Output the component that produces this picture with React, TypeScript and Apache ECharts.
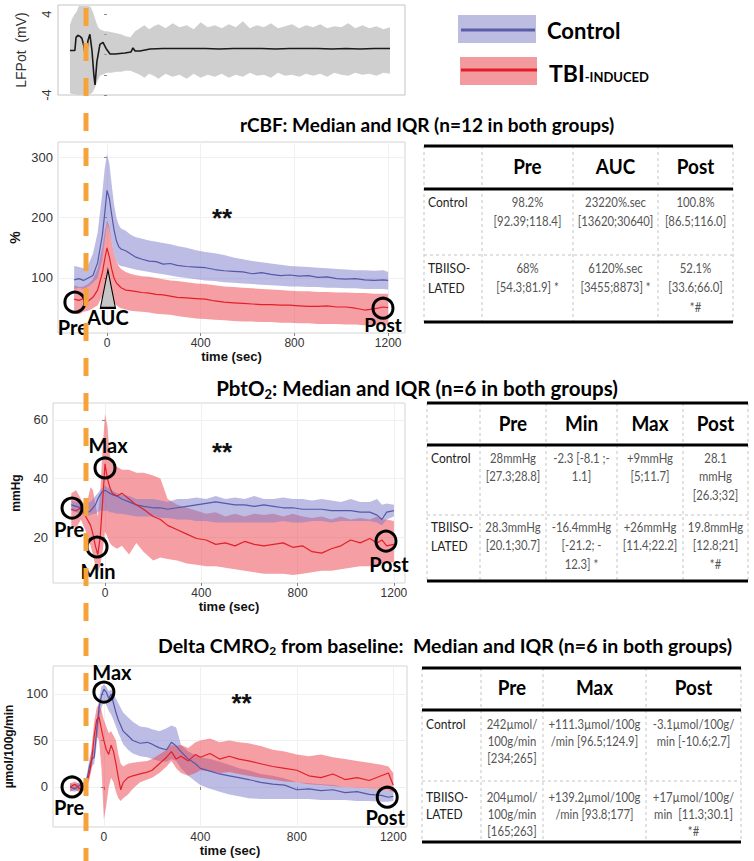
import React, { useEffect, useRef } from 'react';
import * as echarts from 'echarts';

// ---------- shared ----------
const TIME_TICKS = [0, 400, 800, 1200];

// ---------- LFPot ----------
const lfpLineT = [-158, -137, -132, -124, -115, -107, -98, -90, -81, -73, -64, -56, -51, -43, -30, -17, -4, 13, 34, 77, 102, 111, 120, 141, 184, 240, 300, 360, 420, 480, 540, 600, 660, 720, 780, 840, 900, 960, 1020, 1080, 1140, 1208];
const lfpLineV = [0.4, 0.4, 1.7, 1.9, 1.8, 1.6, 0.8, -0.6, 1.4, 2.0, 0.4, -2.0, -3.0, -0.7, 1.0, 1.2, 0.6, 0.05, 0.05, 0.15, 0.25, 0.65, 0.35, 0.35, 0.55, 0.6, 0.6, 0.6, 0.6, 0.55, 0.6, 0.6, 0.6, 0.55, 0.6, 0.6, 0.6, 0.55, 0.6, 0.55, 0.6, 0.6];
const lfpBandT = [-158, -150, -140, -130, -120, -110, -100, -90, -80, -70, -60, -50, -40, -30, -20, -10, 0, 20, 40, 60, 80, 100, 120, 140, 160, 180, 200, 220, 250, 280, 310, 340, 370, 400, 430, 460, 490, 520, 550, 580, 610, 640, 670, 700, 730, 760, 790, 820, 850, 880, 910, 940, 970, 1000, 1030, 1060, 1090, 1120, 1150, 1180, 1208];
const lfpBandHi = [2.9, 3.5, 3.9, 4.2, 4.8, 4.8, 4.8, 4.8, 4.8, 4.7, 4.2, 3.5, 2.8, 2.5, 2.4, 2.3, 2.3, 2.2, 2.1, 2.0, 1.8, 1.7, 2.3, 2.6, 2.9, 2.5, 2.8, 3.0, 2.6, 3.1, 2.7, 2.9, 2.5, 3.2, 2.7, 2.9, 2.6, 3.0, 2.7, 3.3, 2.6, 2.9, 2.7, 3.1, 2.6, 2.8, 3.0, 2.6, 2.9, 2.7, 3.0, 2.6, 2.8, 2.7, 3.1, 2.6, 2.9, 2.6, 2.8, 2.5, 2.7];
const lfpBandLo = [-3.8, -3.9, -3.9, -3.95, -3.95, -3.95, -3.95, -3.95, -3.95, -3.9, -3.7, -3.2, -2.6, -2.1, -2.0, -1.9, -1.8, -1.8, -1.7, -1.7, -1.6, -1.6, -1.8, -2.0, -2.3, -1.9, -2.1, -2.4, -1.9, -2.2, -2.0, -2.4, -1.9, -2.3, -2.0, -2.2, -1.9, -2.3, -2.0, -2.2, -1.8, -2.1, -2.0, -2.3, -1.8, -2.1, -2.0, -2.2, -1.9, -2.1, -1.9, -2.2, -1.8, -2.0, -2.1, -1.8, -2.0, -1.9, -2.1, -1.8, -1.9];

// ---------- rCBF (%) ----------
const rcbfT = [-140, -120, -100, -80, -60, -40, -20, -10, 0, 10, 20, 30, 40, 50, 60, 80, 100, 120, 150, 180, 210, 240, 270, 300, 340, 380, 420, 460, 500, 540, 580, 620, 660, 700, 740, 780, 820, 860, 900, 940, 980, 1020, 1060, 1100, 1140, 1180, 1200];
const rcbfCtrlMed = [97, 99, 96, 100, 104, 125, 170, 205, 245, 232, 205, 180, 162, 152, 148, 145, 140, 135, 131, 128, 127, 123, 124, 121, 119, 118, 117, 114, 112, 111, 110, 107, 109, 106, 104, 105, 103, 104, 101, 102, 99, 98, 99, 97, 96, 97, 96];
const rcbfCtrlQ3 = [120, 118, 116, 122, 140, 175, 240, 280, 305, 290, 255, 222, 200, 188, 182, 178, 172, 168, 165, 162, 160, 158, 156, 153, 150, 146, 143, 141, 138, 134, 131, 128, 126, 124, 122, 120, 119, 118, 117, 116, 115, 114, 113, 113, 112, 113, 110];
const rcbfCtrlQ1 = [82, 84, 82, 86, 92, 100, 130, 160, 190, 180, 160, 140, 128, 122, 120, 118, 116, 114, 112, 110, 108, 106, 104, 102, 100, 98, 96, 95, 93, 92, 91, 90, 89, 88, 87, 86, 86, 85, 85, 84, 84, 83, 83, 82, 82, 82, 81];
const rcbfTbiMed = [65, 63, 66, 62, 68, 80, 108, 130, 150, 135, 115, 100, 92, 88, 84, 80, 79, 78, 76, 75, 73, 72, 70, 68, 67, 66, 65, 62, 60, 59, 58, 57, 56, 56, 55, 55, 54, 53, 53, 54, 52, 52, 50, 47, 49, 52, 51];
const rcbfTbiQ3 = [88, 85, 86, 90, 98, 115, 150, 175, 195, 185, 160, 140, 128, 120, 115, 110, 107, 105, 103, 102, 100, 98, 96, 95, 93, 91, 90, 88, 86, 85, 84, 83, 82, 81, 80, 79, 78, 78, 77, 77, 76, 76, 75, 75, 74, 74, 74];
const rcbfTbiQ1 = [42, 40, 44, 46, 50, 55, 70, 80, 90, 80, 68, 60, 55, 52, 50, 48, 46, 45, 44, 43, 41, 40, 39, 37, 35, 33, 32, 31, 30, 29, 28, 28, 27, 27, 26, 26, 25, 25, 24, 24, 24, 23, 23, 22, 22, 22, 22];

// ---------- PbtO2 (mmHg) ----------
const pbtT = [-140, -120, -100, -80, -60, -50, -40, -30, -20, -10, 0, 10, 20, 30, 50, 70, 100, 130, 160, 200, 230, 260, 300, 340, 380, 420, 460, 500, 540, 580, 620, 660, 700, 740, 780, 820, 860, 900, 940, 980, 1020, 1060, 1100, 1130, 1150, 1170, 1200];
const pbtTbiMed = [29.5, 29, 30, 27, 24, 21, 17, 14, 20, 32, 45, 40, 37, 35, 34, 35, 33, 31, 29.5, 27, 26, 24, 22.5, 21, 19.5, 19, 17.5, 18, 17, 18.5, 17.5, 17, 17.5, 18, 16.5, 17, 15, 14.5, 16, 17, 19, 18, 19.5, 18, 19, 17, 17.5];
const pbtTbiQ3 = [35, 36, 33, 30, 37, 36, 31, 27, 35, 50, 62, 58, 48, 45, 44, 43, 43, 42, 42, 41, 40, 33, 31, 30, 29, 28, 28.5, 27, 28, 27, 28, 27.5, 28, 27, 28, 27, 26.5, 27, 26, 27, 26, 26.5, 26, 27, 26, 26, 25.5];
const pbtTbiQ1 = [24, 23, 26, 22, 17, 14, 10, 8, 10, 15, 22, 20, 18, 17, 16, 17, 14, 18, 15, 12, 13, 12.5, 12, 11, 10.5, 10, 10, 9.5, 9, 8.5, 8, 7.5, 7.5, 7.5, 7, 7.5, 8, 8.5, 8.5, 9, 9.5, 10, 10, 10.5, 11, 11, 11.5];
const pbtCtrlMed = [31, 30.5, 30, 28, 29, 30, 31, 33, 34.5, 35.5, 36, 35.5, 35, 34.5, 34, 33, 32, 31, 30.5, 30, 30, 29.5, 30, 30.5, 31, 31.5, 32, 31.5, 31, 31, 30.5, 31, 30.5, 30, 30, 29.5, 29.5, 29.5, 29, 29, 29, 28.5, 28.5, 27.5, 26, 28.5, 29];
const pbtCtrlQ3 = [32.5, 32, 32, 31.5, 32, 33, 34, 35, 36, 37, 37.5, 37, 36.5, 36, 35, 34.5, 34, 33, 33, 33, 32.5, 32, 33, 33, 33.5, 33, 34, 33, 33.5, 33, 34, 33, 33, 33.5, 33, 33, 32.5, 33, 32.5, 32, 33, 32, 32, 33, 31, 31.5, 31];
const pbtCtrlQ1 = [29, 28.5, 28, 27, 27.5, 28, 28, 28.5, 29, 29, 29, 29, 28.5, 28.5, 28, 28, 27.5, 27, 27, 27, 26.5, 26.5, 26, 26, 25.5, 25.5, 25, 25, 25, 25, 25, 25, 25, 25.5, 25, 25, 25.5, 25.5, 25, 25.5, 25.5, 25.5, 25.5, 25, 24, 26, 27];

// ---------- Delta CMRO2 (µmol/100g/min) ----------
const cmroT = [-140, -120, -100, -80, -70, -60, -50, -40, -30, -20, -10, 0, 10, 20, 30, 40, 50, 60, 70, 80, 100, 120, 150, 180, 200, 230, 260, 280, 300, 320, 350, 380, 400, 440, 480, 520, 560, 600, 650, 700, 750, 800, 850, 900, 950, 1000, 1050, 1100, 1150, 1180, 1200];
const cmroCtrlMed = [0, -2, 2, 0, 8, 22, 30, 32, 60, 85, 98, 105, 102, 95, 100, 90, 80, 72, 66, 60, 55, 50, 47, 48, 46, 42, 40, 48, 44, 38, 30, 25, 20, 17, 14, 12, 10, 8, 5, 3, 2, -3, -2, -4, -3, -6, -5, -8, -9, -11, -10];
const cmroCtrlQ3 = [4, 3, 5, 5, 14, 30, 38, 42, 70, 95, 108, 110, 108, 103, 105, 100, 95, 90, 85, 80, 75, 70, 65, 64, 62, 60, 63, 66, 64, 45, 38, 34, 32, 30, 27, 24, 20, 18, 14, 12, 9, 5, 4, 3, 2, 0, -1, -2, -3, -4, -3];
const cmroCtrlQ1 = [-4, -5, -3, -4, 2, 15, 22, 25, 45, 70, 85, 92, 88, 82, 78, 72, 65, 58, 52, 46, 40, 36, 33, 32, 30, 28, 27, 30, 28, 20, 12, 6, 2, -2, -5, -8, -10, -12, -13, -13, -13, -13, -13, -14, -14, -14, -15, -15, -16, -16, -15];
const cmroTbiMed = [0, 3, -2, 2, 5, 15, 30, 55, 72, 75, 62, 50, 40, 35, 45, 38, 25, 10, -3, 5, 10, 12, 14, 16, 18, 25, 32, 38, 30, 33, 28, 35, 32, 36, 30, 33, 30, 28, 25, 22, 20, 18, 12, 10, 14, 8, 10, 7, 12, 15, 2];
const cmroTbiQ3 = [4, 6, 3, 5, 10, 22, 45, 70, 85, 90, 82, 72, 65, 58, 60, 55, 50, 35, 25, 22, 25, 26, 27, 28, 30, 35, 40, 45, 44, 45, 42, 48, 50, 52, 48, 50, 48, 47, 44, 40, 38, 35, 33, 35, 32, 30, 28, 26, 24, 22, 15];
const cmroTbiQ1 = [-5, -3, -6, -3, 0, 8, 20, 40, 55, 50, 20, -35, -20, 0, 10, 5, -5, -12, -15, -12, -8, -2, 5, 8, 10, 15, 22, 28, 20, 15, 12, 15, 18, 17, 15, 16, 14, 12, 10, 8, 6, 5, 3, 2, 1, 0, -1, -2, -3, -4, -5];

// ---------- tables ----------
const rcbfHeaders = ['', 'Pre', 'AUC', 'Post'];
const rcbfRowNames = [['Control'], ['TBIISO-', 'LATED']];
const rcbfCells = [
  [['98.2%', '[92.39;118.4]'], ['23220%.sec', '[13620;30640]'], ['100.8%', '[86.5;116.0]']],
  [['68%', '[54.3;81.9] *'], ['6120%.sec', '[3455;8873] *'], ['52.1%', '[33.6;66.0]', '*#']],
];
const pbtHeaders = ['', 'Pre', 'Min', 'Max', 'Post'];
const pbtRowNames = [['Control'], ['TBIISO-', 'LATED']];
const pbtCells = [
  [['28mmHg', '[27.3;28.8]'], ['-2.3 [-8.1 ;-', '1.1]'], ['+9mmHg', '[5;11.7]'], ['28.1', 'mmHg', '[26.3;32]']],
  [['28.3mmHg', '[20.1;30.7]'], ['-16.4mmHg', '[-21.2; -', '12.3] *'], ['+26mmHg', '[11.4;22.2]'], ['19.8mmHg', '[12.8;21]', '*#']],
];
const cmroHeaders = ['', 'Pre', 'Max', 'Post'];
const cmroRowNames = [['Control'], ['TBIISO-', 'LATED']];
const cmroCells = [
  [['242µmol/', '100g/min', '[234;265]'], ['+111.3µmol/100g', '/min [96.5;124.9]'], ['-3.1µmol/100g/', 'min [-10.6;2.7]']],
  [['204µmol/', '100g/min', '[165;263]'], ['+139.2µmol/100g', '/min [93.8;177]'], ['+17µmol/100g/', 'min  [11.3;30.1]', '*#']],
];

// ---------- styles ----------
const FONT_C = 'Lato, "Open Sans", sans-serif';
const FONT_A = '"Liberation Sans", Arial, sans-serif';
const BLUE_LINE = '#5558a8';
const RED_LINE = '#e3202a';
const BLUE_BAND = 'rgba(122,122,204,0.5)';
const RED_BAND = 'rgba(236,62,72,0.5)';
const GREY_BAND = 'rgba(175,175,175,0.6)';
const ORANGE = '#F6A43A';

function zip(t: number[], ...cols: number[][]) {
  const n = Math.min(t.length, ...cols.map((c) => c.length));
  const out: number[][] = [];
  for (let i = 0; i < n; i++) out.push([t[i], ...cols.map((c) => c[i])]);
  return out;
}

function bandSeries(g: number, t: number[], lo: number[], hi: number[], fill: string, z: number) {
  const data = zip(t, lo, hi);
  return {
    type: 'custom',
    xAxisIndex: g,
    yAxisIndex: g,
    data,
    encode: { x: 0, y: [1, 2] },
    silent: true,
    z,
    renderItem: (params: any, api: any) => {
      if (params.dataIndex !== 0) return null;
      const pts: number[][] = [];
      for (let i = 0; i < data.length; i++) pts.push(api.coord([data[i][0], data[i][2]]));
      for (let i = data.length - 1; i >= 0; i--) pts.push(api.coord([data[i][0], data[i][1]]));
      return { type: 'polygon', shape: { points: pts }, style: { fill } };
    },
  };
}

function lineSeries(g: number, t: number[], v: number[], color: string, width: number, z: number, markData?: any[]) {
  const s: any = {
    type: 'line',
    xAxisIndex: g,
    yAxisIndex: g,
    data: zip(t, v),
    showSymbol: false,
    symbol: 'none',
    lineStyle: { color, width },
    itemStyle: { color },
    silent: true,
    z,
  };
  if (markData) s.markPoint = { silent: true, data: markData, z: 20 };
  return s;
}

const circleMP = (coord: number[]) => ({
  coord,
  symbol: 'circle',
  symbolSize: 20,
  itemStyle: { color: 'rgba(0,0,0,0)', borderColor: '#000', borderWidth: 3 },
  label: { show: false },
});
const textMP = (coord: number[], text: string, dx: number, dy: number, size = 20) => ({
  coord,
  symbol: 'circle',
  symbolSize: 1,
  itemStyle: { color: 'rgba(0,0,0,0)' },
  label: {
    show: true,
    position: 'inside',
    formatter: text,
    offset: [dx, dy],
    fontSize: size,
    fontWeight: 'bold',
    fontFamily: FONT_C,
    color: '#000',
  },
});
const starMP = (coord: number[]) => ({
  coord,
  symbol: 'circle',
  symbolSize: 1,
  itemStyle: { color: 'rgba(0,0,0,0)' },
  label: { show: true, position: 'inside', formatter: '**', fontSize: 26, fontWeight: 'bold', fontFamily: FONT_A, color: '#111' },
});

const plain = (v: number) => String(v);

function xAxis(g: number, min: number, max: number, show: boolean) {
  return {
    type: 'value',
    gridIndex: g,
    min,
    max,
    axisLine: { show: false },
    axisTick: { show, length: 3, lineStyle: { color: '#888' }, customValues: TIME_TICKS },
    axisLabel: { show, customValues: TIME_TICKS, formatter: plain, fontSize: 12, color: '#333', margin: 4, fontFamily: FONT_A },
    splitLine: { show, lineStyle: { color: '#f0f0f0' } },
    name: show ? 'time (sec)' : '',
    nameLocation: 'middle',
    nameGap: 15,
    nameTextStyle: { fontWeight: 'bold', fontSize: 13, color: '#111', fontFamily: FONT_A },
  };
}

function yAxis(g: number, min: number, max: number, ticks: number[], name: string, nameGap: number, nameSize: number) {
  return {
    type: 'value',
    gridIndex: g,
    min,
    max,
    axisLine: { show: false },
    axisTick: { show: true, length: 3, lineStyle: { color: '#888' }, customValues: ticks },
    axisLabel: { customValues: ticks, formatter: plain, fontSize: 13, color: '#333', margin: 5, fontFamily: FONT_A },
    splitLine: { show: true, lineStyle: { color: '#f0f0f0' } },
    name,
    nameLocation: 'middle',
    nameGap,
    nameRotate: 90,
    nameTextStyle: { fontWeight: 'bold', fontSize: nameSize, color: '#111', fontFamily: FONT_A },
  };
}

function txt(x: number, y: number, text: string, size: number, opts: any = {}) {
  const align = opts.align || 'center';
  return {
    type: 'text',
    x,
    y,
    z: 50,
    silent: true,
    scaleX: opts.scaleX || 1,
    style: {
      text,
      fontSize: size,
      fontWeight: opts.bold ? 'bold' : 'normal',
      fontFamily: opts.family || FONT_C,
      fill: opts.fill || '#000',
      align,
      verticalAlign: 'middle',
      textAlign: align,
      textVerticalAlign: 'middle',
    },
  };
}

function tableGraphics(L: any, headers: string[], rowNames: string[][], cells: string[][][]) {
  const els: any[] = [];
  const x0 = L.cols[0];
  const x1 = L.cols[L.cols.length - 1];
  L.cols.forEach((x: number) =>
    els.push({ type: 'line', z: 40, silent: true, shape: { x1: x, y1: L.top, x2: x, y2: L.bottom }, style: { stroke: '#c4c4c4', lineWidth: 1, lineDash: [3, 3] } })
  );
  els.push({ type: 'line', z: 40, silent: true, shape: { x1: x0, y1: L.rowDiv, x2: x1, y2: L.rowDiv }, style: { stroke: '#c4c4c4', lineWidth: 1, lineDash: [3, 3] } });
  [L.top, L.headBottom, L.bottom].forEach((y: number) =>
    els.push({ type: 'line', z: 41, silent: true, shape: { x1: x0, y1: y, x2: x1, y2: y }, style: { stroke: '#000', lineWidth: 3 } })
  );
  headers.forEach((h, i) => {
    if (!h) return;
    els.push(txt((L.cols[i] + L.cols[i + 1]) / 2, L.headY, h, 21, { bold: true, scaleX: 0.9 }));
  });
  rowNames.forEach((names, r) => {
    names.forEach((nm, k) => {
      els.push(txt(x0 + 4, L.rowY[r] + k * L.lineH, nm, 14, { align: 'left', fill: '#222', scaleX: 0.86 }));
    });
    cells[r].forEach((lines, c) => {
      lines.forEach((ln, k) => {
        els.push(txt((L.cols[c + 1] + L.cols[c + 2]) / 2, L.rowY[r] + k * L.lineH, ln, 13.5, { fill: '#555', scaleX: 0.84 }));
      });
    });
  });
  return els;
}

function buildOption() {
  const gridBase = { show: true, borderColor: '#d4d4d4', borderWidth: 1, backgroundColor: '#fff', containLabel: false, outerBoundsMode: 'none' };

  const richFor = (size: number) => ({
    n: { fontSize: size, fontWeight: 'bold', fontFamily: FONT_C, fill: '#000', verticalAlign: 'middle' },
    s: { fontSize: Math.round(size * 0.62), fontWeight: 'bold', fontFamily: FONT_C, fill: '#000', verticalAlign: 'middle', padding: [11, 0, 0, 0] },
  });

  const graphics: any[] = [
    // titles
    txt(427, 124, 'rCBF: Median and IQR (n=12 in both groups)', 19, { bold: true }),
    {
      type: 'text', x: 417, y: 388, z: 50, silent: true,
      style: { text: '{n|PbtO}{s|2}{n|: Median and IQR (n=6 in both groups)}', rich: richFor(20.5), align: 'center', verticalAlign: 'middle', textAlign: 'center', textVerticalAlign: 'middle' },
    },
    {
      type: 'text', x: 445, y: 645, z: 50, silent: true,
      style: { text: '{n|Delta CMRO}{s|2}{n| from baseline:  Median and IQR (n=6 in both groups)}', rich: richFor(19.5), align: 'center', verticalAlign: 'middle', textAlign: 'center', textVerticalAlign: 'middle' },
    },
    // legend
    { type: 'rect', z: 40, silent: true, shape: { x: 458, y: 15, width: 78, height: 28 }, style: { fill: '#bdbde2' } },
    { type: 'line', z: 41, silent: true, shape: { x1: 461, y1: 30, x2: 535, y2: 30 }, style: { stroke: '#5a5ea8', lineWidth: 3 } },
    { type: 'rect', z: 40, silent: true, shape: { x: 460, y: 57, width: 77, height: 28 }, style: { fill: '#f29a9e' } },
    { type: 'line', z: 41, silent: true, shape: { x1: 461, y1: 70, x2: 537, y2: 70 }, style: { stroke: '#e11d27', lineWidth: 3 } },
    txt(547, 30, 'Control', 22, { bold: true, align: 'left' }),
    {
      type: 'text', x: 549, y: 73, z: 50, silent: true,
      style: {
        text: '{a|TBI}{b|-INDUCED}',
        rich: {
          a: { fontSize: 23, fontWeight: 'bold', fontFamily: FONT_C, fill: '#000', verticalAlign: 'middle' },
          b: { fontSize: 13, fontWeight: 'bold', fontFamily: FONT_C, fill: '#000', verticalAlign: 'middle', padding: [8, 0, 0, 0] },
        },
        align: 'left', verticalAlign: 'middle', textAlign: 'left', textVerticalAlign: 'middle',
      },
    },
    // tables
    ...tableGraphics({ cols: [424, 482, 573, 658, 733], top: 146, headBottom: 189, rowDiv: 255, bottom: 322, headY: 166, rowY: [202, 268], lineH: 19.5 }, rcbfHeaders, rcbfRowNames, rcbfCells),
    ...tableGraphics({ cols: [427, 480, 546, 617, 683, 748], top: 403, headBottom: 445, rowDiv: 515, bottom: 581, headY: 423, rowY: [458, 527], lineH: 18.5 }, pbtHeaders, pbtRowNames, pbtCells),
    ...tableGraphics({ cols: [422, 481, 543, 646, 741], top: 668, headBottom: 710, rowDiv: 781, bottom: 842, headY: 687, rowY: [724, 797], lineH: 17 }, cmroHeaders, cmroRowNames, cmroCells),
    // orange dashed marker line
    { type: 'line', z: 100, silent: true, shape: { x1: 86, y1: 8, x2: 86, y2: 861 }, style: { stroke: ORANGE, lineWidth: 5, lineDash: [18, 17] } },
  ];

  return {
    animation: false,
    backgroundColor: '#fff',
    textStyle: { fontFamily: FONT_A },
    grid: [
      { ...gridBase, left: 58, top: 5, width: 347, height: 90, borderColor: '#c4c4c4' },
      { ...gridBase, left: 58, top: 142, width: 347, height: 191 },
      { ...gridBase, left: 53, top: 403, width: 352, height: 180 },
      { ...gridBase, left: 53, top: 666, width: 354, height: 161 },
    ],
    xAxis: [
      xAxis(0, -209, 1272, false),
      xAxis(1, -209, 1272, true),
      xAxis(2, -216, 1246, true),
      xAxis(3, -211, 1257, true),
    ],
    yAxis: [
      {
        type: 'value', gridIndex: 0, min: -4, max: 4.9,
        axisLine: { show: false },
        axisTick: { show: true, length: 3, lineStyle: { color: '#888' }, customValues: [-4, -2, 0, 2, 4] },
        axisLabel: { customValues: [-4, 4], formatter: plain, rotate: 90, fontSize: 13, color: '#333', margin: 5, fontFamily: FONT_A },
        splitLine: { show: false },
        name: 'LFPot  (mV)', nameLocation: 'middle', nameGap: 30, nameRotate: 90,
        nameTextStyle: { fontSize: 14, color: '#333', fontFamily: FONT_A },
      },
      yAxis(1, 9, 325, [100, 200, 300], '%', 36, 14),
      yAxis(2, 4.3, 65.8, [20, 40, 60], 'mmHg', 31, 12),
      yAxis(3, -43, 130, [0, 50, 100], 'µmol/100g/min', 38, 12),
    ],
    series: [
      // LFPot
      bandSeries(0, lfpBandT, lfpBandLo, lfpBandHi, GREY_BAND, 1),
      lineSeries(0, lfpLineT, lfpLineV, '#1a1a1a', 1.6, 3),
      // rCBF
      bandSeries(1, rcbfT, rcbfTbiQ1, rcbfTbiQ3, RED_BAND, 1),
      bandSeries(1, rcbfT, rcbfCtrlQ1, rcbfCtrlQ3, BLUE_BAND, 2),
      lineSeries(1, rcbfT, rcbfCtrlMed, BLUE_LINE, 1.2, 3),
      lineSeries(1, rcbfT, rcbfTbiMed, RED_LINE, 1.2, 4, [
        circleMP([-137, 60]),
        circleMP([1178, 50]),
        { coord: [4, 82], symbol: 'triangle', symbolSize: [15, 38], itemStyle: { color: '#c6c6c6', borderColor: '#000', borderWidth: 1.5 }, label: { show: false } },
        textMP([-137, 60], 'Pre', -2, 25),
        textMP([4, 82], 'AUC', 0, 28),
        textMP([1178, 50], 'Post', 0, 16, 19),
        starMP([491, 199]),
      ]),
      // PbtO2
      bandSeries(2, pbtT, pbtTbiQ1, pbtTbiQ3, RED_BAND, 1),
      bandSeries(2, pbtT, pbtCtrlQ1, pbtCtrlQ3, BLUE_BAND, 2),
      lineSeries(2, pbtT, pbtCtrlMed, BLUE_LINE, 1.2, 3),
      lineSeries(2, pbtT, pbtTbiMed, RED_LINE, 1.2, 4, [
        circleMP([-137, 29.9]),
        circleMP([-33, 16.6]),
        circleMP([0, 43.6]),
        circleMP([1167, 18.6]),
        textMP([-137, 29.9], 'Pre', -3, 21),
        textMP([-33, 16.6], 'Min', 1, 24),
        textMP([0, 43.6], 'Max', 3, -23),
        textMP([1167, 18.6], 'Post', 3, 23),
        starMP([486, 49]),
      ]),
      // CMRO2
      bandSeries(3, cmroT, cmroCtrlQ1, cmroCtrlQ3, BLUE_BAND, 1),
      bandSeries(3, cmroT, cmroTbiQ1, cmroTbiQ3, RED_BAND, 2),
      lineSeries(3, cmroT, cmroCtrlMed, BLUE_LINE, 1.2, 3),
      lineSeries(3, cmroT, cmroTbiMed, RED_LINE, 1.2, 4, [
        circleMP([-132, 0]),
        circleMP([0, 102]),
        circleMP([1175, -11]),
        textMP([-132, 0], 'Pre', -3, 20),
        textMP([0, 102], 'Max', 8, -20),
        textMP([1175, -11], 'Post', -2, 20),
        starMP([571, 90]),
      ]),
    ],
    graphic: graphics,
  };
}

export default function App() {
  const ref = useRef<HTMLDivElement>(null);
  useEffect(() => {
    if (!ref.current) return;
    const chart = echarts.init(ref.current, null, { renderer: 'svg' });
    chart.setOption(buildOption() as any);
    return () => chart.dispose();
  }, []);
  return <div ref={ref} style={{ position: 'fixed', left: 0, top: 0, width: 754, height: 861, background: '#fff' }} />;
}
